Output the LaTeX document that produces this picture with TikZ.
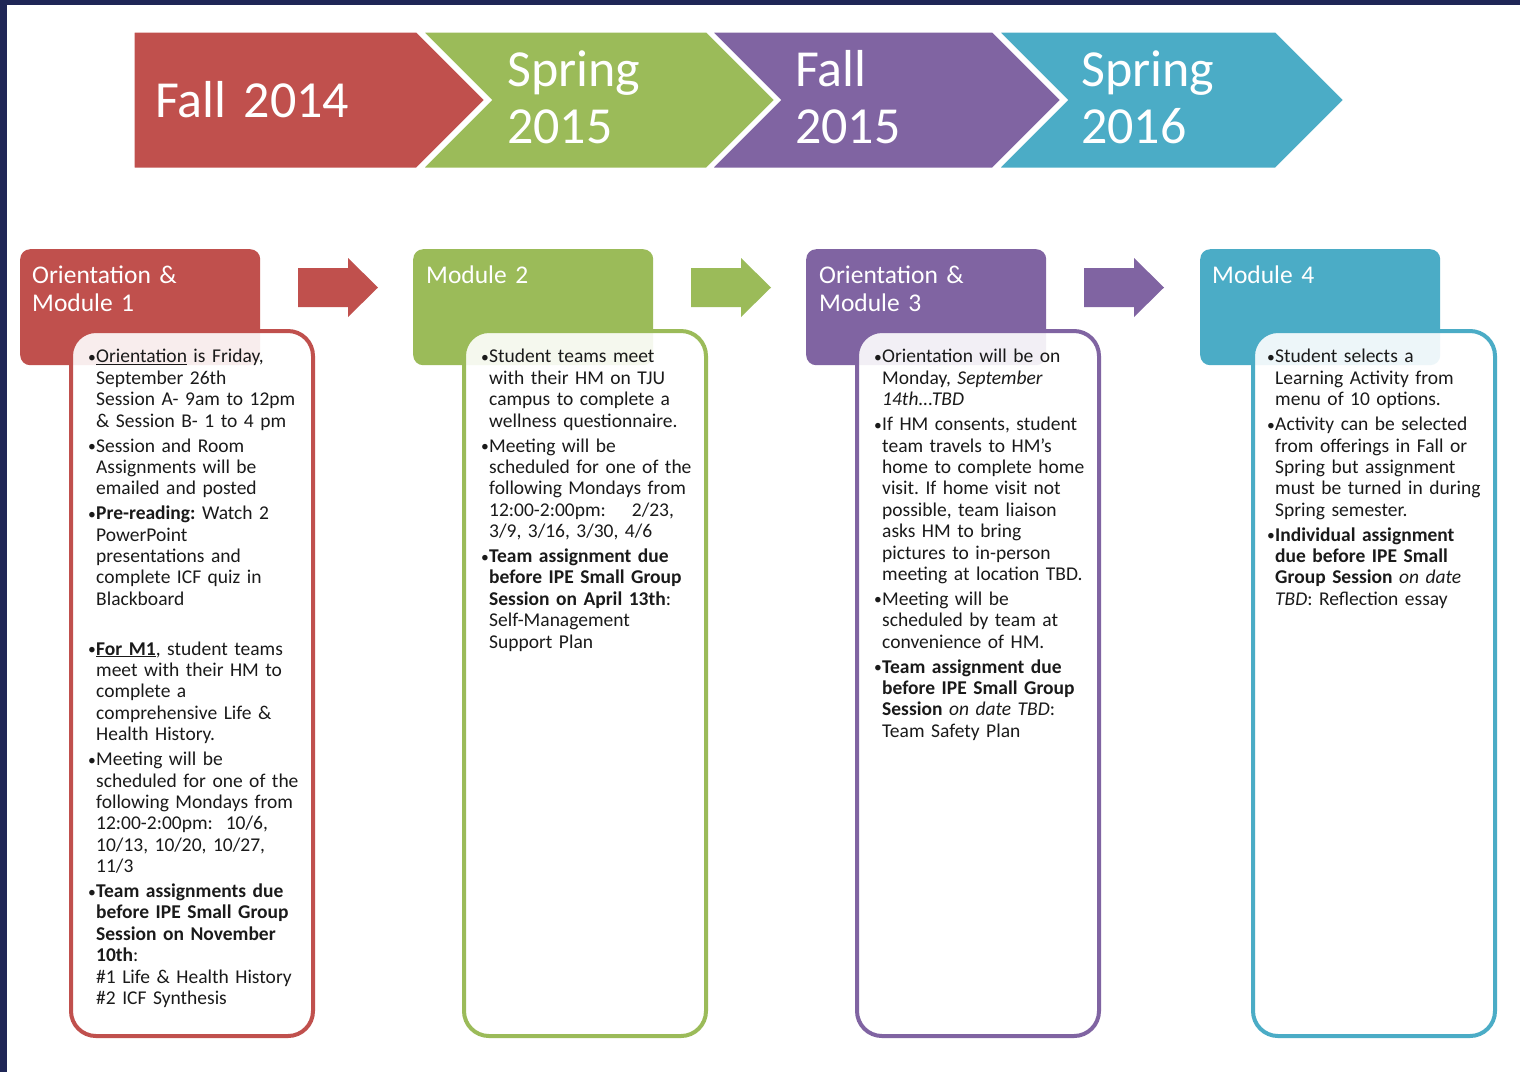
\documentclass[tikz,border=0pt]{standalone}
\usepackage{fontspec}
\setmainfont{Carlito}
\frenchspacing
\definecolor{cred}{HTML}{C0504D}
\definecolor{cgreen}{HTML}{9BBB59}
\definecolor{cpurple}{HTML}{8064A2}
\definecolor{cblue}{HTML}{4BACC6}
\definecolor{navy}{HTML}{1F2656}
\definecolor{bodytext}{HTML}{1A1A1A}
\newcommand\bitem[1]{\par\addvspace{3.5pt}{\let\\\newline\hangindent=8pt\hangafter=1\noindent\makebox[8pt][l]{\raisebox{0.5pt}{\scalebox{0.8}{•}}}#1\par}}
\newcommand\blankpar{\par\addvspace{3.5pt}\noindent\mbox{}\par}
\begin{document}
\begin{tikzpicture}[x=1pt,y=-1pt,
  chev/.style={draw=white, line width=3pt, line join=miter},
  hdr/.style={rounded corners=10pt, minimum width=240pt, minimum height=116pt, anchor=north west, inner sep=0pt},
  cbox/.style={fill=white, fill opacity=0.9, line width=4pt, rounded corners=25pt, minimum width=242pt, minimum height=705pt, anchor=north west, inner sep=0pt},
  hdrtxt/.style={text=white, font=\fontsize{25.5}{28}\selectfont, anchor=base west, text width=230pt, align=left, inner sep=0pt},
  body/.style={text=bodytext, font=\fontsize{19.5}{21.4}\selectfont\frenchspacing, anchor=base west, text width=240pt, align=left, inner sep=0pt},
  chevtxt/.style={text=white, font=\fontsize{52}{57}\selectfont, anchor=base west, text width=260pt, align=left, inner sep=0pt}
]
\useasboundingbox (0,0) rectangle (1520,1072);
\fill[white] (0,0) rectangle (1520,1072);
% dark frame
\fill[navy] (0,0) rectangle (1520,4.5);
\fill[navy] (0,0) rectangle (7,1072);

% chevrons
\filldraw[chev, fill=cred] (133,31) -- (417,31) -- (486,100) -- (417,169) -- (133,169) -- cycle;
\filldraw[chev, fill=cgreen] (421,31) -- (707,31) -- (776,100) -- (707,169) -- (421,169) -- (490,100) -- cycle;
\filldraw[chev, fill=cpurple] (710,31) -- (993,31) -- (1062,100) -- (993,169) -- (710,169) -- (779,100) -- cycle;
\filldraw[chev, fill=cblue] (997,31) -- (1276,31) -- (1345,100) -- (1276,169) -- (997,169) -- (1066,100) -- cycle;
\node[chevtxt] (t1) at (155,117) {Fall 2014};
\node[chevtxt] (t2) at (507,86) {Spring\\2015};
\node[chevtxt] (t3) at (795,86) {Fall\\2015};
\node[chevtxt] (t4) at (1081,86) {Spring\\2016};

% header boxes
\node[hdr, fill=cred] (h1) at (20,249) {};
\node[hdr, fill=cgreen] (h2) at (413,249) {};
\node[hdr, fill=cpurple] (h3) at (806,249) {};
\node[hdr, fill=cblue] (h4) at (1200,249) {};
\node[hdrtxt] (h1t) at (32,283) {Orientation \&\\Module 1};
\node[hdrtxt] (h2t) at (426,283) {Module 2};
\node[hdrtxt] (h3t) at (819,283) {Orientation \&\\Module 3};
\node[hdrtxt] (h4t) at (1212,283) {Module 4};

% block arrows
\foreach \dx/\col in {0/cred, 393/cgreen, 786/cpurple}{
  \fill[\col] (298+\dx,268) -- (348+\dx,268) -- (348+\dx,258) -- (378+\dx,287.5)
     -- (348+\dx,317) -- (348+\dx,307) -- (298+\dx,307) -- cycle;
}

% content boxes
\node[cbox, draw=cred] (c1) at (69,329) {};
\node[cbox, draw=cgreen] (c2) at (462,329) {};
\node[cbox, draw=cpurple] (c3) at (855,329) {};
\node[cbox, draw=cblue] (c4) at (1251,329) {};

% content text
\node[body] (b1) at (88,338) {%
\bitem{\underline{Orientation} is Friday,\\September 26th\\Session A- 9am to 12pm\\\& Session B- 1 to 4 pm}
\bitem{Session and Room\\Assignments will be\\emailed and posted}
\bitem{\textbf{Pre-reading:} Watch 2\\PowerPoint\\presentations and\\complete ICF quiz in\\Blackboard}
\blankpar
\bitem{\textbf{\underline{For M1}}, student teams\\meet with their HM to\\complete a\\comprehensive Life \&\\Health History.}
\bitem{Meeting will be\\scheduled for one of the\\following Mondays from\\12:00-2:00pm:~~10/6,\\10/13, 10/20, 10/27,\\11/3}
\bitem{\textbf{Team assignments due\\before IPE Small Group\\Session on November\\10th}:\\\#1 Life \& Health History\\\#2 ICF Synthesis}
};
\node[body] (b2) at (481,338) {%
\bitem{Student teams meet\\with their HM on TJU\\campus to complete a\\wellness questionnaire.}
\bitem{Meeting will be\\scheduled for one of the\\following Mondays from\\12:00-2:00pm:~~~~2/23,\\3/9, 3/16, 3/30, 4/6}
\bitem{\textbf{Team assignment due\\before IPE Small Group\\Session on April 13th}:\\Self-Management\\Support Plan}
};
\node[body] (b3) at (874,338) {%
\bitem{Orientation will be on\\Monday, \textit{September\\14th...TBD}}
\bitem{If HM consents, student\\team travels to HM's\\home to complete home\\visit. If home visit not\\possible, team liaison\\asks HM to bring\\pictures to in-person\\meeting at location TBD.}
\bitem{Meeting will be\\scheduled by team at\\convenience of HM.}
\bitem{\textbf{Team assignment due\\before IPE Small Group\\Session} \textit{on date TBD}:\\Team Safety Plan}
};
\node[body] (b4) at (1267,338) {%
\bitem{Student selects a\\Learning Activity from\\menu of 10 options.}
\bitem{Activity can be selected\\from offerings in Fall or\\Spring but assignment\\must be turned in during\\Spring semester.}
\bitem{\textbf{Individual assignment\\due before IPE Small\\Group Session} \textit{on date\\TBD}: Reflection essay}
};
\end{tikzpicture}
\end{document}
